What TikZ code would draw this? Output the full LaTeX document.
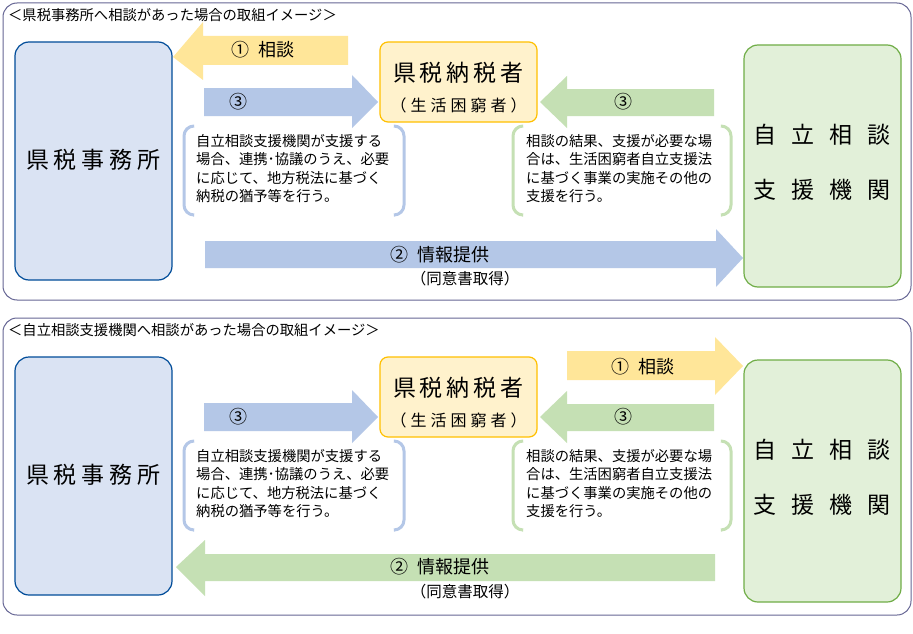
\documentclass[tikz,border=0pt]{standalone}
\usepackage{fontspec}
\setmainfont{Noto Sans CJK JP}
\begin{document}
\begin{tikzpicture}[x=1pt,y=-1pt,
  panel/.style={draw=black!70!blue!60,line width=1pt,rounded corners=14pt},
  bluebox/.style={draw=blue!50!cyan!60!black,fill=bfill,line width=1.2pt,rounded corners=14pt},
  greenbox/.style={draw=gline,fill=gfill,line width=1.2pt,rounded corners=14pt},
  ybox/.style={draw=yline,fill=yfill2,line width=1.2pt,rounded corners=8pt},
  small/.style={font=\fontsize{14.3}{18.5}\selectfont,align=left,anchor=north west,inner sep=0pt},
  big/.style={font=\fontsize{23}{26}\selectfont},
  lab/.style={font=\fontsize{18}{20}\selectfont},
  br/.style={line width=3pt,rounded corners=10pt}]
\definecolor{bfill}{HTML}{DAE3F3}
\definecolor{gfill}{HTML}{E2F0D9}
\definecolor{gline}{HTML}{70AD47}
\definecolor{yline}{HTML}{FFC000}
\definecolor{yfill2}{HTML}{FFF2CC}
\definecolor{barr}{HTML}{B4C7E7}
\definecolor{garr}{HTML}{C5E0B4}
\definecolor{yarr}{HTML}{FFE699}
\def\gp{\hspace{5pt}}
\def\gq{\hspace{15pt}}
\def\gr{\hspace{4pt}}
\fill[white] (0,0) rectangle (913,634);
\useasboundingbox (0,0) rectangle (913,634);
\foreach \o/\ttl/\top in {0/{＜県税事務所へ相談があった場合の取組イメージ＞}/1, 315/{＜自立相談支援機関へ相談があった場合の取組イメージ＞}/0}{
\begin{scope}[yshift=-\o pt]
\draw[panel] (3,3) rectangle (911,300);
\node[anchor=west,inner sep=0pt,font=\fontsize{14.3}{16}\selectfont] (title) at (8,15) {\ttl};
\draw[bluebox] (15,42) rectangle (172,280);
\node[big] (kenzei) at (93.5,160) {県\gp 税\gp 事\gp 務\gp 所};
\draw[greenbox] (744,45) rectangle (901,287);
\node[big] (jiritsu) at (822,135) {自\gq 立\gq 相\gq 談};
\node[big] (shien) at (822,190) {支\gq 援\gq 機\gq 関};
\draw[ybox] (380,42) rectangle (537,122);
\node[big] (nozei) at (458.5,73) {県\gr 税\gr 納\gr 税\gr 者};
\node[font=\fontsize{16}{18}\selectfont] (seikatsu) at (458.5,105) {（\gr 生\gr 活\gr 困\gr 窮\gr 者\gr ）};
\fill[barr] (204,88) -- (352,88) -- (352,75) -- (378,102) -- (352,128) -- (352,116) -- (204,116) -- cycle;
\node[lab] (b3) at (238,102) {③};
\fill[garr] (714,89) -- (567,89) -- (567,76) -- (540,102) -- (567,128) -- (567,116) -- (714,116) -- cycle;
\node[lab] (g3) at (623,102) {③};
\draw[br,barr] (193,126) -- (184,126) -- (184,215) -- (193,215);
\draw[br,barr] (395,126) -- (404,126) -- (404,215) -- (395,215);
\node[small] (t1) at (196,134) {自立相談支援機関が支援する\\場合、連携･協議のうえ、必要\\に応じて、地方税法に基づく\\納税の猶予等を行う。};
\draw[br,garr] (522,126) -- (513,126) -- (513,215) -- (522,215);
\draw[br,garr] (722,126) -- (731,126) -- (731,215) -- (722,215);
\node[small] (t2) at (526,134) {相談の結果、支援が必要な場\\合は、生活困窮者自立支援法\\に基づく事業の実施その他の\\支援を行う。};
\ifnum\top=1
\fill[yarr] (348,36) -- (203,36) -- (203,22) -- (173,57) -- (203,80) -- (203,65) -- (348,65) -- cycle;
\node[lab] (y1) at (263,50) {①\hspace{10pt}相談};
\fill[barr] (205,241) -- (716,241) -- (716,229) -- (743,258) -- (716,287) -- (716,268) -- (205,268) -- cycle;
\node[lab] (i2) at (440,255) {②\hspace{10pt}情報提供};
\else
\fill[yarr] (567,36) -- (715,36) -- (715,22) -- (743,51) -- (715,80) -- (715,65) -- (567,65) -- cycle;
\node[lab] (y1) at (643,52) {①\hspace{10pt}相談};
\fill[garr] (715,239) -- (205,239) -- (205,225) -- (176,252) -- (205,281) -- (205,266) -- (715,266) -- cycle;
\node[lab] (i2) at (440,252) {②\hspace{10pt}情報提供};
\fi
\node[font=\fontsize{15.5}{17}\selectfont] (doi) at (465,\ifnum\top=1 279\else 277\fi) {（同意書取得）};
\end{scope}}
\end{tikzpicture}
\end{document}
